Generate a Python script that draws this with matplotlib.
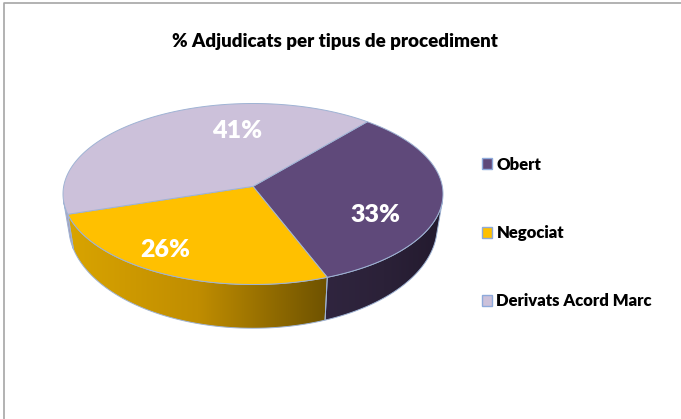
import numpy as np
import matplotlib
matplotlib.use('Agg')
import matplotlib.pyplot as plt
from matplotlib.patches import Polygon, Patch
from matplotlib.colors import LinearSegmentedColormap

plt.rcParams['font.family'] = ['Lato', 'DejaVu Sans']

# data
labels = ['Obert', 'Negociat', 'Derivats Acord Marc']
values = [33, 26, 41]
title = '% Adjudicats per tipus de procediment'

# style
top_colors = ['#5f497a', '#ffc000', '#ccc1da']
side_colors = [['#30253f', '#2b2138', '#231a2e'],
               ['#d9a400', '#c08d00', '#6e5200'],
               ['#b3a8c4', '#a69bb8', '#9a8fac']]
edge_col = '#9fb3d4'
start_angle = 50          # degrees, first slice goes clockwise from here
label_shift = [-16.6, -7.7, -26.0]
label_r = [0.70, 0.80, 0.66]

# pie geometry in pixels (image coords, y down)
CX, CY, RX, RY = 253, 194, 190, 90.5
A = 0.084                 # perspective strength
DROP = 32                 # drop of the bottom rim centre
BOT_SX, BOT_SY = 0.97, 1.13


def project(theta, r=1.0, bottom=False):
    t = np.radians(theta)
    u = r * np.cos(t)
    v = r * np.sin(t)
    w = 1 + A * v
    X = u * np.sqrt(1 - A ** 2) / w
    Y = (v + A) / w
    if bottom:
        return np.column_stack([CX + BOT_SX * RX * X, CY + DROP - BOT_SY * RY * Y])
    return np.column_stack([CX + RX * X, CY - RY * Y])


fig = plt.figure(figsize=(6.81, 4.19), dpi=100)
ax = fig.add_axes([0, 0, 1, 1])
ax.set_xlim(0, 681)
ax.set_ylim(419, 0)
ax.axis('off')

# chart border (top + left only are visible)
ax.plot([3.5, 3.5, 681], [419, 3.5, 3.5], color='#a6a6a6', lw=1.2)

# slice angle ranges (counter-clockwise lo -> hi)
spans = np.array(values) / sum(values) * 360
ranges = []
a = start_angle
for s in spans:
    ranges.append((a - s, a))
    a -= s

# find where the wall faces the viewer (silhouette of the cylinder)
th = np.linspace(-270, 90, 3601)
eps = 0.05
tan = project(th + eps) - project(th - eps)
gen = project(th, bottom=True) - project(th)
cross = tan[:, 0] * gen[:, 1] - tan[:, 1] * gen[:, 0]
i0 = np.argmin(np.abs(th + 90))
vis = np.sign(cross) == np.sign(cross[i0])
lo_i = i0
while lo_i > 0 and vis[lo_i - 1]:
    lo_i -= 1
hi_i = i0
while hi_i < len(th) - 1 and vis[hi_i + 1]:
    hi_i += 1
vis_lo, vis_hi = th[lo_i], th[hi_i]

# side walls
for i, (lo, hi) in enumerate(ranges):
    for k in (-360, 0, 360):
        l0, h0 = max(lo + k, vis_lo), min(hi + k, vis_hi)
        if h0 <= l0:
            continue
        arc = np.linspace(l0, h0, 80)
        pts = np.vstack([project(arc), project(arc[::-1], bottom=True)])
        poly = Polygon(pts, closed=True, facecolor='none', edgecolor=edge_col,
                       lw=0.7, zorder=3)
        ax.add_patch(poly)
        cmap = LinearSegmentedColormap.from_list('side%d' % i, side_colors[i])
        x0, x1 = pts[:, 0].min(), pts[:, 0].max()
        y0, y1 = pts[:, 1].min(), pts[:, 1].max()
        grad = np.linspace(0, 1, 256)[None, :]
        im = ax.imshow(grad, cmap=cmap, extent=[x0, x1, y1, y0], aspect='auto',
                       zorder=2, interpolation='bicubic')
        im.set_clip_path(poly)

ax.set_xlim(0, 681)
ax.set_ylim(419, 0)

# top faces
apex = project(np.array([0.0]), r=0.0)
for i, (lo, hi) in enumerate(ranges):
    arc = np.linspace(lo, hi, 120)
    pts = np.vstack([apex, project(arc)])
    ax.add_patch(Polygon(pts, closed=True, facecolor=top_colors[i],
                         edgecolor=edge_col, lw=0.7, zorder=4))

# percentage labels
for i, (lo, hi) in enumerate(ranges):
    mid = (lo + hi) / 2 + label_shift[i]
    p = project(np.array([mid]), r=label_r[i])[0]
    ax.text(p[0], p[1], '%d%%' % values[i], color='white', fontsize=18,
            fontweight='heavy', ha='center', va='center', zorder=5)

ax.text(335, 42, title, fontsize=13.5, fontweight='heavy', ha='center',
        va='center', color='black')

handles = [Patch(facecolor=c, edgecolor='#8eaadb', lw=1.0) for c in top_colors]
ax.legend(handles, labels, loc='upper left', bbox_to_anchor=(482 / 681, 1 - 156.5 / 419),
          frameon=False, prop={'weight': 'heavy', 'size': 12}, labelspacing=3.15,
          handlelength=0.62, handleheight=0.62, handletextpad=0.25, borderpad=0,
          borderaxespad=0)

fig.savefig('out.png', dpi=100)
